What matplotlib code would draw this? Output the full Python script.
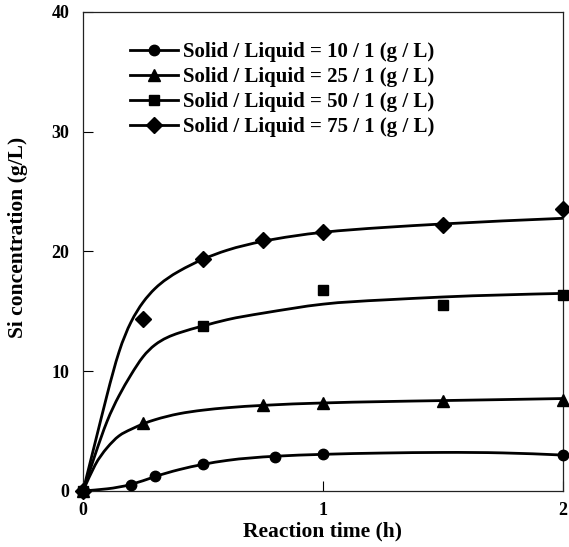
import numpy as np
import matplotlib
matplotlib.use("Agg")
import matplotlib.pyplot as plt
from matplotlib.path import Path
from matplotlib.patches import PathPatch
from matplotlib.lines import Line2D

plt.rcParams['font.family'] = ['Liberation Serif', 'DejaVu Serif']
plt.rcParams['font.weight'] = 'bold'

# Measured Si concentration (g/L) vs. reaction time (h)
t_10 = [0, 0.2, 0.3, 0.5, 0.8, 1.0, 2.0]
c_10 = [0, 0.5, 1.25, 2.23, 2.86, 3.06, 3.0]

t_25 = [0, 0.25, 0.75, 1.0, 1.5, 2.0]
c_25 = [0, 5.65, 7.18, 7.37, 7.52, 7.6]

t_50 = [0, 0.5, 1.0, 1.5, 2.0]
c_50 = [0, 13.78, 16.78, 15.53, 16.33]

t_75 = [0, 0.25, 0.5, 0.75, 1.0, 1.5, 2.0]
c_75 = [0, 14.34, 19.35, 20.96, 21.65, 22.21, 23.52]

# Fitted curves (knot values)
fit_t_10 = [0, 0.1, 0.2, 0.3, 0.4, 0.5, 0.6, 0.8, 1.0, 1.25, 1.5, 1.75, 2.0]
fit_c_10 = [0, 0.18, 0.55, 1.2, 1.78, 2.22, 2.55, 2.9, 3.06, 3.17, 3.22, 3.18, 3.0]

fit_t_25 = [0, 0.05, 0.1, 0.15, 0.2, 0.25, 0.3, 0.4, 0.5, 0.6, 0.75, 1.0, 1.5, 2.0]
fit_c_25 = [0, 2.15, 3.6, 4.6, 5.15, 5.6, 5.95, 6.45, 6.75, 6.95, 7.15, 7.35, 7.55, 7.72]

fit_t_50 = [0, 0.05, 0.1, 0.15, 0.2, 0.25, 0.3, 0.4, 0.5, 0.6, 0.75, 1.0, 1.25, 1.5, 2.0]
fit_c_50 = [0, 3.0, 5.8, 7.95, 9.7, 11.2, 12.2, 13.2, 13.78, 14.3, 14.85, 15.6, 15.95, 16.2, 16.5]

fit_t_75 = [0, 0.05, 0.1, 0.15, 0.2, 0.25, 0.3, 0.4, 0.5, 0.6, 0.75, 1.0, 1.25, 1.5, 2.0]
fit_c_75 = [0, 4.0, 8.0, 11.6, 14.1, 15.75, 16.9, 18.35, 19.35, 20.1, 20.85, 21.6, 22.0, 22.3, 22.77]

labels = ["Solid / Liquid = 10 / 1 (g / L)",
          "Solid / Liquid = 25 / 1 (g / L)",
          "Solid / Liquid = 50 / 1 (g / L)",
          "Solid / Liquid = 75 / 1 (g / L)"]
markers = ['o', '^', 's', 'D']
msizes = [7.5, 8.5, 7.2, 8.0]

x_ticks = [0, 1, 2]
y_ticks = [0, 10, 20, 30, 40]


def spline_path(x, y):
    """Cubic spline through the knots (start slope clamped to the first
    secant, natural end), returned as Bezier segments."""
    x = np.asarray(x, float)
    y = np.asarray(y, float)
    n = len(x)
    h = np.diff(x)
    d = np.diff(y) / h
    A = np.zeros((n, n))
    b = np.zeros(n)
    A[0, 0], b[0] = 1.0, d[0]
    A[-1, -2], A[-1, -1], b[-1] = 1.0, 2.0, 3.0 * d[-1]
    for i in range(1, n - 1):
        A[i, i - 1] = 1.0 / h[i - 1]
        A[i, i] = 2.0 / h[i - 1] + 2.0 / h[i]
        A[i, i + 1] = 1.0 / h[i]
        b[i] = 3.0 * (d[i - 1] / h[i - 1] + d[i] / h[i])
    m = np.linalg.solve(A, b)
    verts = [(x[0], y[0])]
    codes = [Path.MOVETO]
    for i in range(n - 1):
        verts += [(x[i] + h[i] / 3, y[i] + m[i] * h[i] / 3),
                  (x[i + 1] - h[i] / 3, y[i + 1] - m[i + 1] * h[i] / 3),
                  (x[i + 1], y[i + 1])]
        codes += [Path.CURVE4] * 3
    return Path(verts, codes)


fig = plt.figure(figsize=(5.69, 5.47), dpi=100)
ax = fig.add_axes([0.1459, 0.1024, 0.8430, 0.8757])

series = [(t_10, c_10, fit_t_10, fit_c_10),
          (t_25, c_25, fit_t_25, fit_c_25),
          (t_50, c_50, fit_t_50, fit_c_50),
          (t_75, c_75, fit_t_75, fit_c_75)]

handles = []
for (t, c, ft, fc), mk, ms, lab in zip(series, markers, msizes, labels):
    patch = PathPatch(spline_path(ft, fc), facecolor='none', edgecolor='black',
                      lw=2.0, capstyle='round', joinstyle='round', zorder=2)
    ax.add_patch(patch)
    ax.plot(t, c, linestyle='none', marker=mk, markersize=ms, color='black',
            zorder=3, clip_on=False)
    handles.append(Line2D([], [], color='black', lw=2.0, marker=mk, markersize=ms))

ax.set_xlim(0, 2)
ax.set_ylim(0, 40)
ax.set_xticks(x_ticks)
ax.set_yticks(y_ticks)
ax.set_xticklabels([str(v) for v in x_ticks])
ax.set_yticklabels([str(v) for v in y_ticks])
ax.tick_params(direction='in', length=7, width=0.8, labelsize=13,
               top=False, right=False)
ax.tick_params(axis='x', pad=8)
ax.tick_params(axis='y', pad=10)
for s in ax.spines.values():
    s.set_linewidth(0.9)
    s.set_color('#222222')

ax.set_xlabel("Reaction time (h)", fontsize=15.5, fontweight='bold')
ax.set_ylabel("Si concentration (g/L)", fontsize=15.5, fontweight='bold')
ax.xaxis.set_label_coords(0.5, -0.064)
ax.yaxis.set_label_coords(-0.115, 0.53)

leg = ax.legend(handles, labels, loc='upper left', bbox_to_anchor=(0.098, 0.937),
                frameon=False, fontsize=15, handlelength=2.3, handletextpad=0.25,
                labelspacing=0.24, borderpad=0, borderaxespad=0)
for txt in leg.get_texts():
    txt.set_fontweight('bold')

fig.savefig("out.png", dpi=100)
